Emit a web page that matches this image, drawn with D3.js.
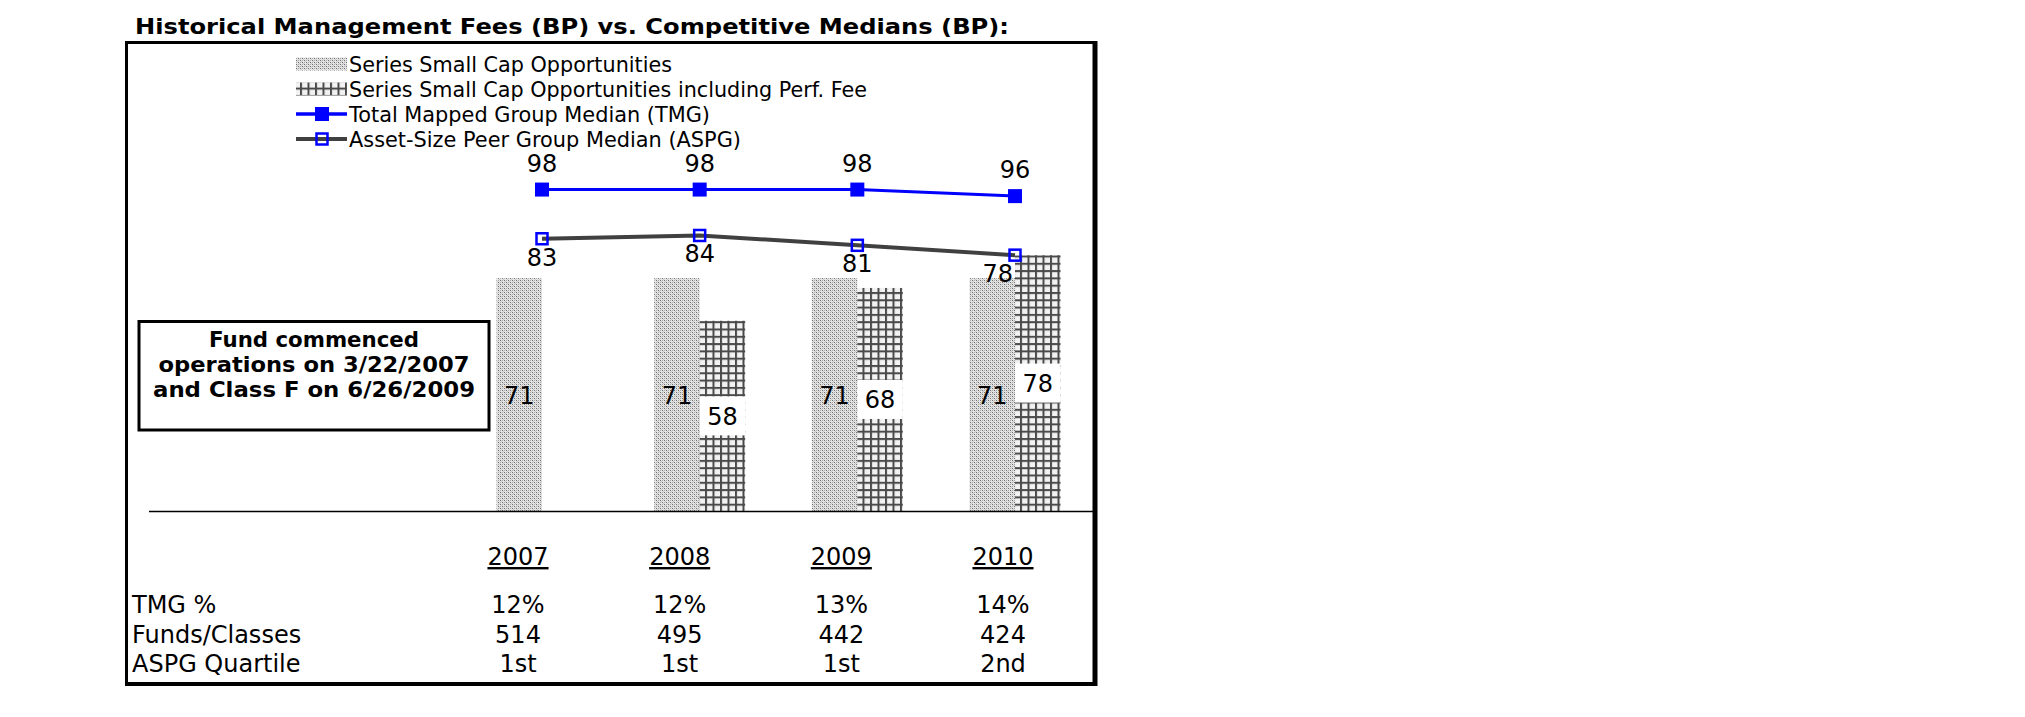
<!DOCTYPE html>
<html>
<head>
<meta charset="utf-8">
<script src="https://cdn.jsdelivr.net/npm/d3@7"></script>
<style>
  html, body { margin: 0; padding: 0; background: #fff; }
  svg { display: block; }
</style>
</head>
<body>
<div id="chart"></div>
<script>
// ---------- data ----------
const categories = ["2007", "2008", "2009", "2010"];
const seriesBase = [71, 71, 71, 71];          // Series Small Cap Opportunities
const seriesPerf = [null, 58, 68, 78];        // ... including Perf. Fee
const tmgMedian = [98, 98, 98, 96];           // Total Mapped Group Median
const aspgMedian = [83, 84, 81, 78];          // Asset-Size Peer Group Median
const rowLabels = ["TMG %", "Funds/Classes", "ASPG Quartile"];
const tmgPct = ["12%", "12%", "13%", "14%"];
const fundsClasses = ["514", "495", "442", "424"];
const aspgQuartile = ["1st", "1st", "1st", "2nd"];
const legendLabels = [
  "Series Small Cap Opportunities",
  "Series Small Cap Opportunities including Perf. Fee",
  "Total Mapped Group Median (TMG)",
  "Asset-Size Peer Group Median (ASPG)"
];
const titleText = "Historical Management Fees (BP) vs. Competitive Medians (BP):";
const noteLines = ["Fund commenced", "operations on 3/22/2007", "and Class F on 6/26/2009"];

// ---------- setup ----------
const W = 2025, H = 717;
const FONT = "'DejaVu Sans', Verdana, sans-serif";
const BLUE = "#0000ff", GRAY = "#404040";

const svg = d3.select("#chart").append("svg")
  .attr("width", W).attr("height", H)
  .style("font-family", FONT);
svg.append("rect").attr("width", W).attr("height", H).attr("fill", "#fff");

const defs = svg.append("defs");
// stipple pattern
const stip = defs.append("pattern").attr("id", "stip")
  .attr("patternUnits", "userSpaceOnUse").attr("width", 4).attr("height", 4);
stip.append("rect").attr("width", 4).attr("height", 4).attr("fill", "#e4e4e4");
[[0,0,"#6f6f6f"],[2,2,"#6f6f6f"],[2,0,"#a8a8a8"],[0,2,"#a8a8a8"],[1,1,"#c8c8c8"],[3,3,"#c8c8c8"]]
  .forEach(([px,py,c]) => stip.append("rect").attr("x",px).attr("y",py).attr("width",1).attr("height",1).attr("fill",c));
// grid pattern
const grid = defs.append("pattern").attr("id", "grid")
  .attr("patternUnits", "userSpaceOnUse").attr("width", 7.5).attr("height", 7.3);
grid.append("rect").attr("width", 7.5).attr("height", 7.3).attr("fill", "#f2f2f2");
grid.append("rect").attr("x", 0).attr("y", 0).attr("width", 2).attr("height", 7.3).attr("fill", "#4a4a4a");
grid.append("rect").attr("x", 0).attr("y", 0).attr("width", 7.5).attr("height", 2).attr("fill", "#4a4a4a");

// ---------- scales ----------
const x = d3.scalePoint().domain(categories).range([542, 1015]);
const y = d3.scaleLinear().domain([0, 100]).range([511, 183]);
const xTable = d3.scalePoint().domain(categories).range([518, 1003]);
const bw = 45.5;

// ---------- title ----------
svg.append("text").attr("x", 135).attr("y", 34)
  .attr("font-weight", "bold").attr("font-size", 21)
  .attr("textLength", 874).attr("lengthAdjust", "spacingAndGlyphs")
  .text(titleText);

// ---------- frame ----------
const frame = svg.append("g").attr("stroke", "#000").attr("fill", "none");
frame.append("line").attr("x1", 126.5).attr("x2", 126.5).attr("y1", 41).attr("y2", 685).attr("stroke-width", 3);
frame.append("line").attr("x1", 125).attr("x2", 1097).attr("y1", 42.5).attr("y2", 42.5).attr("stroke-width", 3);
frame.append("line").attr("x1", 1095).attr("x2", 1095).attr("y1", 41).attr("y2", 686).attr("stroke-width", 5);
frame.append("line").attr("x1", 125).attr("x2", 1097).attr("y1", 684).attr("y2", 684).attr("stroke-width", 4);

// ---------- legend ----------
const legY = [64, 89, 114, 139];
const lg = svg.append("g");
const legWidths = [323, 518, 361, 392];
legendLabels.forEach((t, i) => {
  lg.append("text").attr("x", 349).attr("y", legY[i] + 7.5)
    .attr("font-size", 20.5)
    .attr("textLength", legWidths[i]).attr("lengthAdjust", "spacingAndGlyphs")
    .text(t);
});
lg.append("rect").attr("x", 296).attr("y", legY[0] - 6.5).attr("width", 51).attr("height", 13).attr("fill", "url(#stip)");
lg.append("rect").attr("x", 296).attr("y", legY[1] - 6.5).attr("width", 51).attr("height", 13).attr("fill", "url(#grid)");
lg.append("line").attr("x1", 296).attr("x2", 347).attr("y1", legY[2]).attr("y2", legY[2]).attr("stroke", BLUE).attr("stroke-width", 3.5);
lg.append("rect").attr("x", 322 - 7).attr("y", legY[2] - 7).attr("width", 14).attr("height", 14).attr("fill", BLUE);
lg.append("line").attr("x1", 296).attr("x2", 347).attr("y1", legY[3]).attr("y2", legY[3]).attr("stroke", GRAY).attr("stroke-width", 4);
lg.append("rect").attr("x", 322 - 5.5).attr("y", legY[3] - 5.5).attr("width", 11).attr("height", 11)
  .attr("fill", "none").attr("stroke", BLUE).attr("stroke-width", 2.5);

// ---------- bars ----------
const bars = svg.append("g");
bars.selectAll("rect.b1").data(categories).join("rect").attr("class", "b1")
  .attr("x", c => x(c) - bw)
  .attr("y", (c, i) => y(seriesBase[i]))
  .attr("width", bw)
  .attr("height", (c, i) => y(0) - y(seriesBase[i]))
  .attr("fill", "url(#stip)");
const perfData = categories.map((c, i) => ({ c, v: seriesPerf[i] })).filter(d => d.v != null);
bars.selectAll("rect.b2").data(perfData).join("rect").attr("class", "b2")
  .attr("x", d => x(d.c))
  .attr("y", d => y(d.v))
  .attr("width", bw)
  .attr("height", d => y(0) - y(d.v))
  .attr("fill", "url(#grid)");

// bar labels
const lblSize = 24;
bars.selectAll("text.l1").data(categories).join("text").attr("class", "l1")
  .attr("x", c => x(c) - bw / 2)
  .attr("y", (c, i) => (y(0) + y(seriesBase[i])) / 2 + 9)
  .attr("text-anchor", "middle").attr("font-size", lblSize)
  .text((c, i) => seriesBase[i]);
bars.selectAll("rect.lb2").data(perfData).join("rect").attr("class", "lb2")
  .attr("x", d => x(d.c))
  .attr("y", d => (y(0) + y(d.v)) / 2 - 19.5)
  .attr("width", bw).attr("height", 39).attr("fill", "#fff");
bars.selectAll("text.l2").data(perfData).join("text").attr("class", "l2")
  .attr("x", d => x(d.c) + bw / 2)
  .attr("y", d => (y(0) + y(d.v)) / 2 + 9)
  .attr("text-anchor", "middle").attr("font-size", lblSize)
  .text(d => d.v);

// baseline
svg.append("line").attr("x1", 149).attr("x2", 1095).attr("y1", y(0) + 0.5).attr("y2", y(0) + 0.5)
  .attr("stroke", "#000").attr("stroke-width", 1.5);

// ---------- lines ----------
const line = d3.line().x(d => x(d.c)).y(d => y(d.v));
const tmgData = categories.map((c, i) => ({ c, v: tmgMedian[i] }));
const aspgData = categories.map((c, i) => ({ c, v: aspgMedian[i] }));

svg.append("path").datum(aspgData).attr("d", line)
  .attr("fill", "none").attr("stroke", GRAY).attr("stroke-width", 4);
svg.selectAll("rect.am").data(aspgData).join("rect").attr("class", "am")
  .attr("x", d => x(d.c) - 5.5).attr("y", d => y(d.v) - 5.5)
  .attr("width", 11).attr("height", 11)
  .attr("fill", "none").attr("stroke", BLUE).attr("stroke-width", 2.5);
svg.selectAll("text.al").data(aspgData).join("text").attr("class", "al")
  .attr("x", (d, i) => i === aspgData.length - 1 ? x(d.c) - 2 : x(d.c))
  .attr("y", d => y(d.v) + 27)
  .attr("text-anchor", (d, i) => i === aspgData.length - 1 ? "end" : "middle")
  .attr("font-size", lblSize)
  .text(d => d.v);

svg.append("path").datum(tmgData).attr("d", line)
  .attr("fill", "none").attr("stroke", BLUE).attr("stroke-width", 3);
svg.selectAll("rect.tm").data(tmgData).join("rect").attr("class", "tm")
  .attr("x", d => x(d.c) - 7).attr("y", d => y(d.v) - 7)
  .attr("width", 14).attr("height", 14).attr("fill", BLUE);
svg.selectAll("text.tl").data(tmgData).join("text").attr("class", "tl")
  .attr("x", d => x(d.c)).attr("y", d => y(d.v) - 18)
  .attr("text-anchor", "middle").attr("font-size", lblSize)
  .text(d => d.v);

// ---------- annotation box ----------
svg.append("rect").attr("x", 139).attr("y", 321.5).attr("width", 350).attr("height", 108.5)
  .attr("fill", "#fff").attr("stroke", "#000").attr("stroke-width", 3);
const noteW = [210, 311, 322];
noteLines.forEach((t, i) => {
  svg.append("text").attr("x", 314).attr("y", 347 + i * 25)
    .attr("text-anchor", "middle").attr("font-weight", "bold").attr("font-size", 20.5)
    .attr("textLength", noteW[i]).attr("lengthAdjust", "spacingAndGlyphs")
    .text(t);
});

// ---------- table ----------
const tbl = svg.append("g").attr("font-size", 24);
tbl.selectAll("text.yr").data(categories).join("text").attr("class", "yr")
  .attr("x", c => xTable(c)).attr("y", 565)
  .attr("text-anchor", "middle")
  .style("text-decoration", "underline")
  .text(c => c);
const rowsY = [613, 643, 672];
const rowVals = [tmgPct, fundsClasses, aspgQuartile];
rowLabels.forEach((lab, r) => {
  tbl.append("text").attr("x", 132).attr("y", rowsY[r]).text(lab);
  tbl.selectAll("text.r" + r).data(categories).join("text").attr("class", "r" + r)
    .attr("x", c => xTable(c)).attr("y", rowsY[r])
    .attr("text-anchor", "middle")
    .text((c, i) => rowVals[r][i]);
});
</script>
</body>
</html>
